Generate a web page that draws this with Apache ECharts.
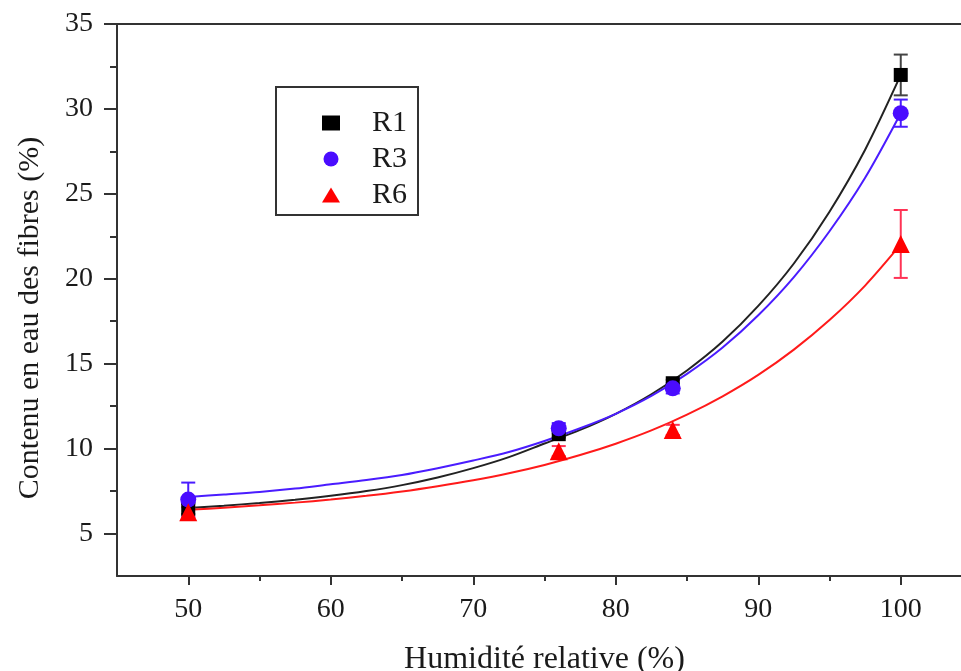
<!DOCTYPE html>
<html>
<head>
<meta charset="utf-8">
<script src="https://cdn.jsdelivr.net/npm/echarts@6/dist/echarts.min.js"></script>
<style>
  html, body { margin: 0; padding: 0; background: #fff; }
  #container { width: 961px; height: 671px; }
</style>
</head>
<body>
<div id="container"></div>
<script>
// measured points
var humidity = [50, 76, 84, 100];
var r1 = [6.45, 10.85, 13.85, 32.0];
var r1Err = [0.3, 0.2, 0.2, 1.2];
var r3 = [7.0, 11.2, 13.55, 29.75];
var r3Err = [1.0, 0.3, 0.3, 0.8];
var r6 = [6.25, 9.85, 11.1, 22.05];
var r6Err = [0.3, 0.3, 0.3, 2.0];

// fitted curves
var fitX = [50, 52.5, 55, 57.5, 60, 62.5, 65, 67.5, 70, 72.5, 75, 77.5, 80, 82.5, 85, 87.5, 90, 92.5, 95, 97.5, 100];
var fitR1 = [6.5, 6.64, 6.8, 6.99, 7.22, 7.5, 7.85, 8.3, 8.85, 9.5, 10.3, 11.1, 12.05, 13.2, 14.6, 16.3, 18.4, 20.9, 23.95, 27.6, 32.0];
var fitR3 = [7.15, 7.3, 7.45, 7.65, 7.9, 8.15, 8.45, 8.85, 9.3, 9.8, 10.45, 11.2, 12.05, 13.1, 14.4, 15.95, 17.85, 20.1, 22.8, 25.95, 29.75];
var fitR6 = [6.4, 6.52, 6.66, 6.82, 7.0, 7.22, 7.48, 7.79, 8.14, 8.55, 9.04, 9.62, 10.29, 11.07, 12.0, 13.08, 14.34, 15.83, 17.57, 19.6, 22.02];

var xMajor = [50, 60, 70, 80, 90, 100];
var xMinor = [55, 65, 75, 85, 95];
var yMajor = [5, 10, 15, 20, 25, 30, 35];
var yMinor = [7.5, 12.5, 17.5, 22.5, 27.5, 32.5];

var FONT = '"Liberation Serif", "DejaVu Serif", serif';
var AXIS_COLOR = '#333';
var TEXT_COLOR = '#1a1a1a';

function pairs(xs, ys) {
  return xs.map(function (x, i) { return [x, ys[i]]; });
}
function errData(xs, ys, es) {
  return xs.map(function (x, i) { return [x, ys[i] - es[i], ys[i] + es[i]]; });
}
function errSeries(name, xs, ys, es, color) {
  return {
    name: name + ' err',
    type: 'custom',
    z: 3,
    data: errData(xs, ys, es),
    renderItem: function (params, api) {
      var lo = api.coord([api.value(0), api.value(1)]);
      var hi = api.coord([api.value(0), api.value(2)]);
      var w = 7;
      var style = { stroke: color, lineWidth: 2 };
      return {
        type: 'group',
        children: [
          { type: 'line', shape: { x1: lo[0], y1: lo[1], x2: hi[0], y2: hi[1] }, style: style },
          { type: 'line', shape: { x1: lo[0] - w, y1: lo[1], x2: lo[0] + w, y2: lo[1] }, style: style },
          { type: 'line', shape: { x1: hi[0] - w, y1: hi[1], x2: hi[0] + w, y2: hi[1] }, style: style }
        ]
      };
    }
  };
}
function fitSeries(name, ys, color) {
  return {
    name: name + ' fit',
    type: 'line',
    data: pairs(fitX, ys),
    smooth: 0.3,
    symbol: 'none',
    z: 2,
    lineStyle: { color: color, width: 2 }
  };
}

var dom = document.getElementById('container');
var myChart = echarts.init(dom, null, { renderer: 'canvas' });

var option = {
  animation: false,
  backgroundColor: '#fff',
  grid: { left: 117, top: 24, bottom: 95, right: -11, outerBoundsMode: 'none', containLabel: false },
  legend: {
    data: ['R1', 'R3', 'R6'],
    orient: 'vertical',
    left: 317,
    top: 103,
    itemWidth: 18,
    itemHeight: 15,
    itemGap: 6,
    textStyle: { fontFamily: FONT, fontSize: 30, color: TEXT_COLOR, padding: [0, 0, 0, 27] }
  },
  graphic: [{
    type: 'rect',
    shape: { x: 276, y: 87, width: 142, height: 128 },
    style: { fill: 'none', stroke: AXIS_COLOR, lineWidth: 2 }
  }, {
    type: 'text',
    x: 30,
    y: 318,
    rotation: Math.PI / 2,
    style: {
      text: 'Contenu en eau des fibres (%)',
      fontFamily: FONT,
      fontSize: 30,
      fill: TEXT_COLOR,
      align: 'center',
      verticalAlign: 'middle'
    }
  }],
  xAxis: [{
    type: 'value',
    min: 45,
    max: 105,
    position: 'bottom',
    name: 'Humidité relative (%)',
    nameLocation: 'middle',
    nameGap: 68,
    nameTextStyle: { fontFamily: FONT, fontSize: 32, color: TEXT_COLOR },
    axisLine: { show: true, lineStyle: { color: AXIS_COLOR, width: 2 } },
    axisTick: { show: true, customValues: xMajor, length: 9, lineStyle: { color: AXIS_COLOR, width: 2 } },
    axisLabel: { customValues: xMajor, margin: 20, fontFamily: FONT, fontSize: 28, color: TEXT_COLOR },
    splitLine: { show: false }
  }, {
    type: 'value',
    min: 45,
    max: 105,
    position: 'bottom',
    axisLine: { show: false },
    axisTick: { show: true, customValues: xMinor, length: 5, lineStyle: { color: AXIS_COLOR, width: 2 } },
    axisLabel: { show: false },
    splitLine: { show: false }
  }, {
    type: 'value',
    min: 45,
    max: 105,
    position: 'top',
    axisLine: { show: true, lineStyle: { color: AXIS_COLOR, width: 2 } },
    axisTick: { show: false },
    axisLabel: { show: false },
    splitLine: { show: false }
  }],
  yAxis: [{
    type: 'value',
    min: 2.5,
    max: 35,
    axisLine: { show: true, lineStyle: { color: AXIS_COLOR, width: 2 } },
    axisTick: { show: true, customValues: yMajor, length: 13, lineStyle: { color: AXIS_COLOR, width: 2 } },
    axisLabel: { customValues: yMajor, margin: 24, fontFamily: FONT, fontSize: 28, color: TEXT_COLOR },
    splitLine: { show: false }
  }, {
    type: 'value',
    min: 2.5,
    max: 35,
    position: 'left',
    axisLine: { show: false },
    axisTick: { show: true, customValues: yMinor, length: 7, lineStyle: { color: AXIS_COLOR, width: 2 } },
    axisLabel: { show: false },
    splitLine: { show: false }
  }],
  series: [
    fitSeries('R1', fitR1, '#222'),
    fitSeries('R3', fitR3, '#4a1cff'),
    fitSeries('R6', fitR6, '#ff1a1a'),
    errSeries('R1', humidity, r1, r1Err, '#444'),
    errSeries('R3', humidity, r3, r3Err, '#4a1cff'),
    errSeries('R6', humidity, r6, r6Err, '#ff3355'),
    {
      name: 'R1', type: 'scatter', z: 4,
      symbol: 'rect', symbolSize: 14,
      itemStyle: { color: '#000', opacity: 1 },
      data: pairs(humidity, r1)
    },
    {
      name: 'R3', type: 'scatter', z: 4,
      symbol: 'circle', symbolSize: 16,
      itemStyle: { color: '#4a0cff', opacity: 1 },
      data: pairs(humidity, r3)
    },
    {
      name: 'R6', type: 'scatter', z: 4,
      symbol: 'triangle', symbolSize: 18,
      itemStyle: { color: '#ff0000', opacity: 1 },
      data: pairs(humidity, r6)
    }
  ]
};

myChart.setOption(option);
window.addEventListener('resize', myChart.resize);
</script>
</body>
</html>
